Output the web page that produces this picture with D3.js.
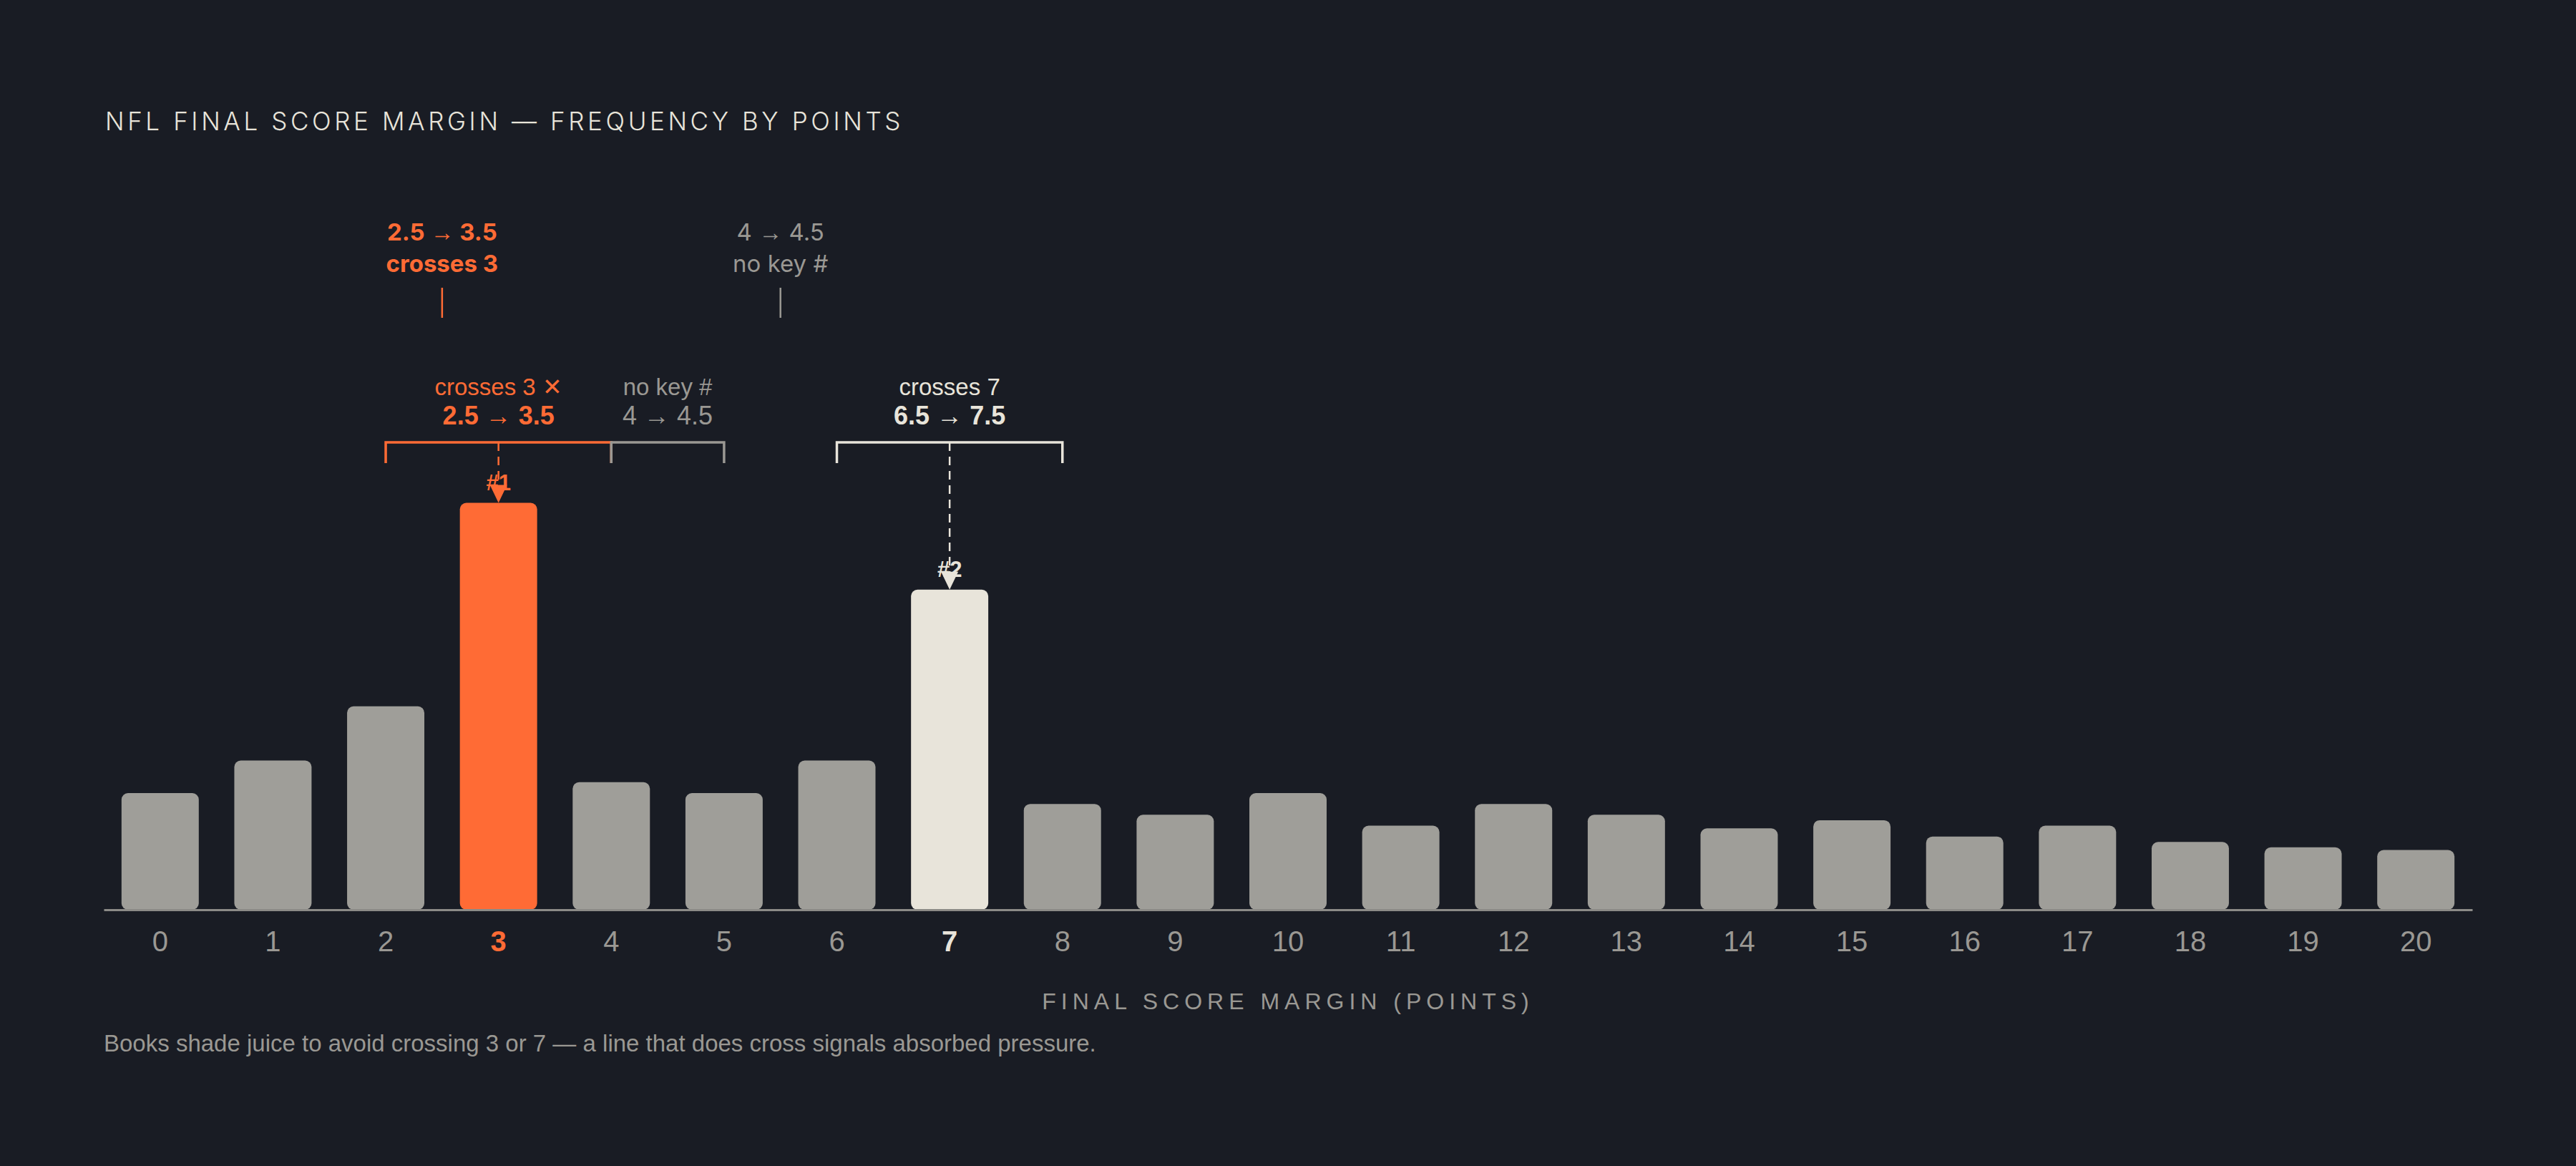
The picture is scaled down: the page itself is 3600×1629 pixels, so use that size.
<!DOCTYPE html>
<html>
<head>
<meta charset="utf-8">
<script src="https://cdn.jsdelivr.net/npm/d3@7"></script>
<style>
  body { margin: 0; background: #191c24; }
  svg { display: block; }
</style>
</head>
<body>
<svg id="chart"></svg>
<script>
// final score margin (points) and share of games
const margins = [0, 1, 2, 3, 4, 5, 6, 7, 8, 9, 10, 11, 12, 13, 14, 15, 16, 17, 18, 19, 20];
const frequency = [4.3, 5.5, 7.5, 15.0, 4.7, 4.3, 5.5, 11.8, 3.9, 3.5, 4.3, 3.1, 3.9, 3.5, 3.0, 3.3, 2.7, 3.1, 2.5, 2.3, 2.2];

// line-move brackets
const bracketFrom = [2, 4, 6];
const bracketTo = [4, 5, 8];
const bracketTitle = ["crosses 3 ✕", "no key #", "crosses 7"];
const bracketMove = ["2.5 → 3.5", "4 → 4.5", "6.5 → 7.5"];

// ranked key numbers
const keyMargins = [3, 7];
const keyRanks = ["#1", "#2"];

// floating notes above
const noteAt = [2.5, 5.5];
const noteMove = ["2.5 → 3.5", "4 → 4.5"];
const noteText = ["crosses 3", "no key #"];

const WIDTH = 3600;
const HEIGHT = 1629;
const BG = "#191c24";
const ORANGE = "#ff6b35";
const CREAM = "#e8e4da";
const GREY = "#9f9e99";
const TEXT_GREY = "#9a9893";
const SANS = "Liberation Sans, Arial, sans-serif";

const left = 145, right = 3455, baseline = 1271;

const svg = d3.select("#chart")
  .attr("width", WIDTH)
  .attr("height", HEIGHT)
  .style("background", BG);

const x = d3.scaleBand()
  .domain(margins)
  .range([left, right])
  .paddingInner(0.315)
  .paddingOuter(0.1575);

// value -> band centre, so half points land between bars
const xc = d3.scaleLinear()
  .domain([margins[0], margins[margins.length - 1]])
  .range([x(margins[0]) + x.bandwidth() / 2, x(margins[margins.length - 1]) + x.bandwidth() / 2]);

const y = d3.scaleLinear()
  .domain([0, 16])
  .range([baseline, baseline - 16 * 37.9]);

const colorOf = (m) => (m === 3 ? ORANGE : m === 7 ? CREAM : GREY);
const accentOf = (i) => (i === 0 ? ORANGE : i === 1 ? TEXT_GREY : CREAM);

// title
svg.append("text")
  .attr("x", 147)
  .attr("y", 182)
  .attr("fill", CREAM)
  .style("font-family", "Inter")
  .style("font-size", "35px")
  .style("font-weight", 300)
  .style("letter-spacing", "4.6px")
  .text("NFL FINAL SCORE MARGIN — FREQUENCY BY POINTS");

// bars
svg.append("g")
  .selectAll("rect")
  .data(margins)
  .join("rect")
  .attr("x", (d) => x(d))
  .attr("y", (d, i) => y(frequency[i]))
  .attr("width", x.bandwidth())
  .attr("height", (d, i) => y(0) - y(frequency[i]))
  .attr("rx", 9)
  .attr("fill", colorOf);

// baseline axis
const axis = svg.append("g")
  .attr("transform", `translate(0,${baseline})`)
  .call(d3.axisBottom(x).tickSize(0).tickPadding(30));
axis.select(".domain").attr("stroke", "#8c8b87").attr("stroke-width", 3);
axis.selectAll(".tick text")
  .style("font-family", SANS)
  .style("font-size", "40px")
  .attr("dy", "0.71em")
  .attr("fill", (d) => (d === 3 ? ORANGE : d === 7 ? CREAM : TEXT_GREY))
  .style("font-weight", (d) => (d === 3 || d === 7 ? 700 : 400));

// axis title
svg.append("text")
  .attr("x", (left + right) / 2)
  .attr("y", 1410)
  .attr("text-anchor", "middle")
  .attr("fill", TEXT_GREY)
  .style("font-family", SANS)
  .style("font-size", "32px")
  .style("letter-spacing", "7px")
  .text("FINAL SCORE MARGIN (POINTS)");

// caption
svg.append("text")
  .attr("x", 145)
  .attr("y", 1469)
  .attr("fill", TEXT_GREY)
  .style("font-family", SANS)
  .style("font-size", "33px")
  .text("Books shade juice to avoid crossing 3 or 7 — a line that does cross signals absorbed pressure.");

// brackets
const bracketY = 618, bracketDrop = 29;
const brackets = svg.append("g")
  .selectAll("g")
  .data(bracketFrom)
  .join("g");

brackets.append("path")
  .attr("d", (d, i) => {
    const x0 = xc(d), x1 = xc(bracketTo[i]);
    return `M${x0},${bracketY + bracketDrop}V${bracketY}H${x1}V${bracketY + bracketDrop}`;
  })
  .attr("fill", "none")
  .attr("stroke", (d, i) => accentOf(i))
  .attr("stroke-width", 3.5);

brackets.append("text")
  .attr("x", (d, i) => xc((d + bracketTo[i]) / 2))
  .attr("y", 552)
  .attr("text-anchor", "middle")
  .attr("fill", (d, i) => accentOf(i))
  .style("font-family", SANS)
  .style("font-size", "33px")
  .text((d, i) => bracketTitle[i]);

brackets.append("text")
  .attr("x", (d, i) => xc((d + bracketTo[i]) / 2))
  .attr("y", 593)
  .attr("text-anchor", "middle")
  .attr("fill", (d, i) => accentOf(i))
  .style("font-family", SANS)
  .style("font-size", "36px")
  .style("font-weight", (d, i) => (i === 1 ? 400 : 700))
  .text((d, i) => bracketMove[i]);

// dashed pointers from the bracket down to the key bars
const pointers = svg.append("g")
  .selectAll("g")
  .data(keyMargins)
  .join("g");

pointers.append("line")
  .attr("x1", (d) => xc(d))
  .attr("x2", (d) => xc(d))
  .attr("y1", bracketY)
  .attr("y2", (d) => y(frequency[margins.indexOf(d)]) - 20)
  .attr("stroke", (d) => colorOf(d))
  .attr("stroke-width", 2.5)
  .attr("stroke-dasharray", "12,8");

pointers.append("path")
  .attr("d", (d) => {
    const tip = y(frequency[margins.indexOf(d)]);
    const cx = xc(d);
    return `M${cx - 12},${tip - 25}L${cx + 12},${tip - 25}L${cx},${tip}Z`;
  })
  .attr("fill", (d) => colorOf(d));

pointers.append("text")
  .attr("x", (d) => xc(d))
  .attr("y", (d) => y(frequency[margins.indexOf(d)]) - 18)
  .attr("text-anchor", "middle")
  .attr("fill", (d) => colorOf(d))
  .style("font-family", SANS)
  .style("font-size", "31px")
  .style("font-weight", 700)
  .text((d, i) => keyRanks[i]);

// floating notes
const notes = svg.append("g")
  .selectAll("g")
  .data(noteAt)
  .join("g");

const moveText = notes.append("text")
  .attr("x", (d) => xc(d))
  .attr("y", 336)
  .attr("text-anchor", "middle")
  .attr("fill", (d, i) => (i === 0 ? ORANGE : TEXT_GREY))
  .style("font-family", "Inter")
  .style("font-size", "33px")
  .style("font-weight", (d, i) => (i === 0 ? 700 : 400));

// thin arrow between the two numbers, like the original
moveText.each(function (d, i) {
  const [from, to] = noteMove[i].split(" → ");
  const t = d3.select(this);
  t.append("tspan").text(from + " ");
  t.append("tspan").style("font-family", SANS).style("font-weight", 400).style("font-size", "33px").text("→");
  t.append("tspan").text(" " + to);
});

notes.append("text")
  .attr("x", (d) => xc(d))
  .attr("y", 380)
  .attr("text-anchor", "middle")
  .attr("fill", (d, i) => (i === 0 ? ORANGE : TEXT_GREY))
  .style("font-family", "Inter")
  .style("font-size", "33px")
  .style("font-weight", (d, i) => (i === 0 ? 700 : 400))
  .text((d, i) => noteText[i]);

notes.append("line")
  .attr("x1", (d) => xc(d))
  .attr("x2", (d) => xc(d))
  .attr("y1", 402)
  .attr("y2", 444)
  .attr("stroke", (d, i) => (i === 0 ? ORANGE : TEXT_GREY))
  .attr("stroke-width", 2.5);
</script>
</body>
</html>
